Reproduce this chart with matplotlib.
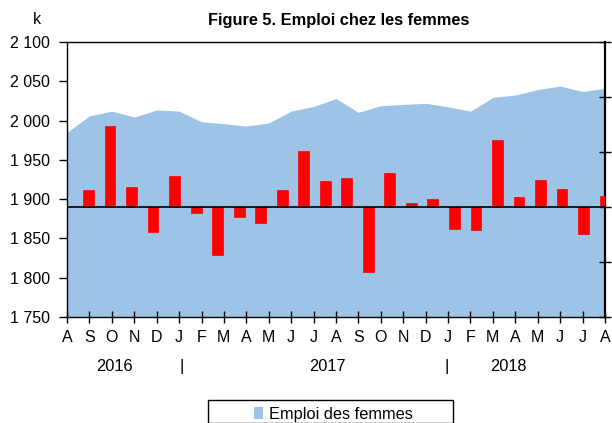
import matplotlib
matplotlib.use('Agg')
from matplotlib import pyplot as plt
from matplotlib.patches import Rectangle
from matplotlib.ticker import FuncFormatter

plt.rcParams['font.family'] = ['Liberation Sans', 'DejaVu Sans']

# mois d'aout 2016 a aout 2018
mois = ['A', 'S', 'O', 'N', 'D', 'J', 'F', 'M', 'A', 'M', 'J', 'J',
        'A', 'S', 'O', 'N', 'D', 'J', 'F', 'M', 'A', 'M', 'J', 'J', 'A']
# emploi des femmes (k)
emploi = [1985, 2006, 2012, 2004.5, 2013.5, 2012, 1998.5, 1996, 1993, 1997,
          2012, 2018, 2028, 2010.5, 2019, 2020.5, 2022, 2017.5, 2012, 2029.5,
          2032.5, 2039.5, 2044, 2037, 2041]
# variation mensuelle (echelle de droite)
variation = [3.0, 14.7, 3.6, -4.6, 5.6, -1.1, -8.7, -1.8, -2.9, 3.0, 10.2, 4.7,
             5.3, -11.9, 6.2, 0.7, 1.4, -4.0, -4.2, 12.1, 1.8, 4.9, 3.3, -5.0, 2.0]
annees = ['2016', '2017', '2018']

fig = plt.figure(figsize=(6.12, 4.23), dpi=100)
rect = [67/612, 1 - 317/423, 538/612, 275/423]
ax = fig.add_axes(rect)

x = list(range(len(emploi)))
aire = ax.fill_between(x, 1750, emploi, color='#9DC3E6', lw=0)
ax.set_xlim(0, len(emploi) - 1)
ax.set_ylim(1750, 2100)
ax.set_yticks(range(1750, 2101, 50))
ax.yaxis.set_major_formatter(FuncFormatter(lambda v, p: f'{v:,.0f}'.replace(',', ' ')))
ax.set_xticks(x)
ax.set_xticklabels(mois)
ax.tick_params(axis='y', direction='out', length=6, width=1, pad=6, labelsize=11.5)
ax.tick_params(axis='x', direction='inout', length=9, width=1, pad=5, labelsize=11.5)
for s in ax.spines.values():
    s.set_linewidth(1)
ax.spines['right'].set_linewidth(1.6)

# barres sur un second axe
ax2 = fig.add_axes(rect)
ax2.patch.set_visible(False)
for s in ax2.spines.values():
    s.set_visible(False)
pos = list(range(1, len(variation) + 1))
ax2.bar(pos, variation, width=0.5, color='#FF0000', edgecolor='#FF0000', lw=0.5)
ax2.axhline(0, color='black', lw=1.2)
ax2.set_xlim(0, len(variation))
ax2.set_ylim(-20, 30)
ax2.set_xticks([])
ax2.yaxis.tick_right()
ax2.set_yticks(range(-20, 31, 10))
ax2.set_yticklabels([])
ax2.tick_params(axis='y', direction='inout', length=9, width=1)

fig.text(339/612, 1 - 20/423, 'Figure 5. Emploi chez les femmes',
         ha='center', va='center', fontsize=11.8, fontweight='bold')
fig.text(37/612, 1 - 20/423, 'k', ha='center', va='center', fontsize=11.5)

# annees sous l'axe
for xp, lab in zip([2.1, 11.6, 19.7], annees):
    ax.text(xp, -0.18, lab, transform=ax.get_xaxis_transform(), ha='center', va='center', fontsize=11.8)
for xp in [5.1, 16.95]:
    ax.text(xp, -0.18, '|', transform=ax.get_xaxis_transform(), ha='center', va='center', fontsize=12.5)

# legende
fig.patches.append(Rectangle((208/612, 0), 245/612, 1 - 400/423, transform=fig.transFigure,
                             fill=False, ec='black', lw=1, figure=fig))
fig.legend([aire], ['Emploi des femmes'], loc='center left', bbox_to_anchor=(254/612, 1 - 414/423),
           frameon=False, handlelength=0.55, handleheight=0.7, handletextpad=0.35,
           borderpad=0, borderaxespad=0, fontsize=11.8)

fig.savefig('out.png', dpi=100)
